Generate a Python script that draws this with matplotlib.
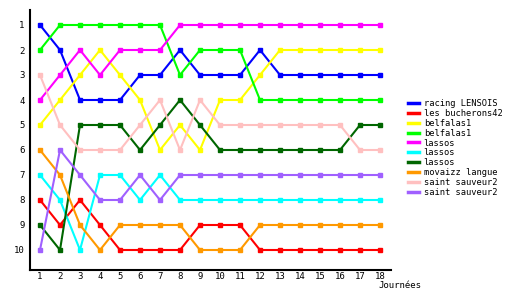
import matplotlib
matplotlib.use("Agg")
import matplotlib.pyplot as plt
from matplotlib.lines import Line2D

journees = list(range(1, 19))

teams = ["racing LENSOIS", "les bucherons42", "belfalas1", "belfalas1", "lassos",
         "lassos", "lassos", "movaizz langue", "saint sauveur2", "saint sauveur2"]
colors = ["#0000ff", "#ff0000", "#ffff00", "#00ff00", "#ff00ff",
          "#00ffff", "#006600", "#ff9900", "#ffc0c0", "#a060ff"]

racing_lensois = [1, 2, 4, 4, 4, 3, 3, 2, 3, 3, 3, 2, 3, 3, 3, 3, 3, 3]
bucherons42 = [8, 9, 8, 9, 10, 10, 10, 10, 9, 9, 9, 10, 10, 10, 10, 10, 10, 10]
belfalas1_a = [5, 4, 3, 2, 3, 4, 6, 5, 6, 4, 4, 3, 2, 2, 2, 2, 2, 2]
belfalas1_b = [2, 1, 1, 1, 1, 1, 1, 3, 2, 2, 2, 4, 4, 4, 4, 4, 4, 4]
lassos_a = [4, 3, 2, 3, 2, 2, 2, 1, 1, 1, 1, 1, 1, 1, 1, 1, 1, 1]
lassos_b = [7, 8, 10, 7, 7, 8, 7, 8, 8, 8, 8, 8, 8, 8, 8, 8, 8, 8]
lassos_c = [9, 10, 5, 5, 5, 6, 5, 4, 5, 6, 6, 6, 6, 6, 6, 6, 5, 5]
movaizz = [6, 7, 9, 10, 9, 9, 9, 9, 10, 10, 10, 9, 9, 9, 9, 9, 9, 9]
saint_sauveur_a = [3, 5, 6, 6, 6, 5, 4, 6, 4, 5, 5, 5, 5, 5, 5, 5, 6, 6]
saint_sauveur_b = [10, 6, 7, 8, 8, 7, 8, 7, 7, 7, 7, 7, 7, 7, 7, 7, 7, 7]

series = [racing_lensois, bucherons42, belfalas1_a, belfalas1_b, lassos_a,
          lassos_b, lassos_c, movaizz, saint_sauveur_a, saint_sauveur_b]

plt.rcParams['font.family'] = ['DejaVu Sans Mono']

fig = plt.figure(figsize=(5.3, 3.0), dpi=100)
ax = fig.add_axes([30 / 530, 30 / 300, 361 / 530, 260 / 300])

for vals, c in zip(series, colors):
    ax.plot(journees, vals, color=c, lw=1.5, marker='s', ms=2.5, mec=c, mfc=c)

ax.set_xlim(0.5, 18.55)
ax.set_ylim(10.8, 0.4)
ax.set_xticks(journees)
ax.set_yticks(range(1, 11))
ax.tick_params(length=0, labelsize=6.5)
ax.tick_params(axis='x', pad=1.5)
ax.tick_params(axis='y', pad=4)
ax.spines['top'].set_visible(False)
ax.spines['right'].set_visible(False)
for s in ('left', 'bottom'):
    ax.spines[s].set_linewidth(1.5)
    ax.spines[s].set_color('black')

fig.text(400 / 530, 1 - 285 / 300, "Journées", fontsize=6.5, ha='center', va='center')

handles = [Line2D([], [], color=c, lw=2.5) for c in colors]
fig.legend(handles, teams, loc='upper left', bbox_to_anchor=(408 / 530, 1 - 99 / 300),
           frameon=False, fontsize=6.3, handlelength=1.3, handletextpad=0.5,
           labelspacing=0.1, borderpad=0, borderaxespad=0)

fig.savefig("out.png", dpi=100)
